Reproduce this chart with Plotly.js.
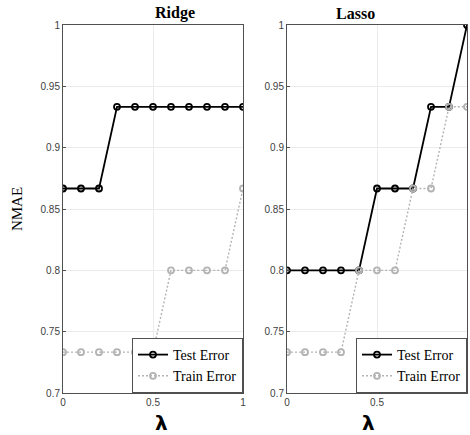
<!DOCTYPE html>
<html><head><meta charset="utf-8">
<script src="https://cdn.plot.ly/plotly-3.0.1.min.js"></script>
<style>body{margin:0;padding:0;background:#fff}#c{width:470px;height:435px}</style>
</head><body><div id="c"></div>
<script>
const lambda = [0,0.1,0.2,0.3,0.4,0.5,0.6,0.7,0.8,0.9,1.0];
const ridgeTest  = [0.8667,0.8667,0.8667,0.9333,0.9333,0.9333,0.9333,0.9333,0.9333,0.9333,0.9333];
const ridgeTrain = [0.7333,0.7333,0.7333,0.7333,0.7333,0.7333,0.8,0.8,0.8,0.8,0.8667];
const lassoTest  = [0.8,0.8,0.8,0.8,0.8,0.8667,0.8667,0.8667,0.9333,0.9333,1.0];
const lassoTrain = [0.7333,0.7333,0.7333,0.7333,0.8,0.8,0.8,0.8667,0.8667,0.9333,0.9333];
const titles = ['Ridge','Lasso'];
const seriesNames = ['Test Error','Train Error'];
const yTicks = [0.7,0.75,0.8,0.85,0.9,0.95,1];
const yTickText = ['0.7','0.75','0.8','0.85','0.9','0.95','1'];
const xTicks = [0,0.5,1];
const xTickText = ['0','0.5','1'];

const SERIF = "Liberation Serif";
const SANS = "Liberation Sans";
const black = '#000000', grey = '#b3b3b3';
function testTrace(y, xa, ya, lg){
  return {x: lambda, y: y, xaxis: xa, yaxis: ya, legend: lg, name: seriesNames[0], mode:'lines+markers',
    line:{color:black,width:1.8}, marker:{symbol:'circle-open',size:6,color:black,line:{width:1.8,color:black}}};
}
function trainTrace(y, xa, ya, lg){
  return {x: lambda, y: y, xaxis: xa, yaxis: ya, legend: lg, name: seriesNames[1], mode:'lines+markers',
    line:{color:grey,width:1.4,dash:'2px,2px'}, marker:{symbol:'circle-open',size:6,color:grey,line:{width:1.8,color:grey}}};
}
const data = [
  testTrace(ridgeTest,'x','y','legend'),
  trainTrace(ridgeTrain,'x','y','legend'),
  testTrace(lassoTest,'x2','y2','legend2'),
  trainTrace(lassoTrain,'x2','y2','legend2')
];
const axCommon = {showline:true, mirror:true, linecolor:'#505050', linewidth:1, gridcolor:'#ebebeb', gridwidth:1,
  zeroline:false, ticks:'inside', ticklen:3, tickcolor:'#505050',
  tickfont:{family:SANS, size:10, color:'#404040'}};
const xa = Object.assign({}, axCommon, {range:[0,1], tickvals:xTicks, ticktext:xTickText});
const ya = Object.assign({}, axCommon, {range:[0.7,1], tickvals:yTicks, ticktext:yTickText});
const d1 = [0, 180/404], d2 = [224/404, 1];
const legCommon = {bgcolor:'#ffffff', bordercolor:'#505050', borderwidth:1,
  font:{family:SERIF, size:14, color:'#000'},
  yanchor:'bottom', y:0, xanchor:'right', tracegroupgap:0, itemwidth:30};
const layout = {
  width:470, height:435, margin:{l:63, r:3, t:25, b:42},
  font:{family:SERIF, color:'#000'},
  paper_bgcolor:'#fff', plot_bgcolor:'#fff', showlegend:true,
  xaxis: Object.assign({}, xa, {domain:d1, anchor:'y'}),
  yaxis: Object.assign({}, ya, {anchor:'x', title:{text:'NMAE', standoff:14,
    font:{family:SERIF, size:15, color:'#000'}}}),
  xaxis2: Object.assign({}, xa, {domain:d2, anchor:'y2'}),
  yaxis2: Object.assign({}, ya, {anchor:'x2'}),
  legend: Object.assign({}, legCommon, {x:d1[1]}),
  legend2: Object.assign({}, legCommon, {x:d2[1]}),
  annotations: [
    {text:'<b>'+titles[0]+'</b>', xref:'paper', yref:'paper', x:(d1[0]+d1[1])/2, y:1, yanchor:'bottom', yshift:1, showarrow:false,
      font:{family:SERIF, size:16, color:'#000'}},
    {text:'<b>'+titles[1]+'</b>', xref:'paper', yref:'paper', x:(d2[0]+d2[1])/2, y:1, yanchor:'bottom', yshift:1, showarrow:false,
      font:{family:SERIF, size:16, color:'#000'}},
    {text:'<b>λ</b>', xref:'paper', yref:'paper', x:(d1[0]+d1[1])/2, y:0, yanchor:'top', yshift:-16, showarrow:false,
      font:{family:'DejaVu Sans', size:20, color:'#000'}},
    {text:'<b>λ</b>', xref:'paper', yref:'paper', x:(d2[0]+d2[1])/2, y:0, yanchor:'top', yshift:-16, showarrow:false,
      font:{family:'DejaVu Sans', size:20, color:'#000'}}
  ]
};
Plotly.newPlot('c', data, layout, {displayModeBar:false, staticPlot:true});
</script></body></html>
